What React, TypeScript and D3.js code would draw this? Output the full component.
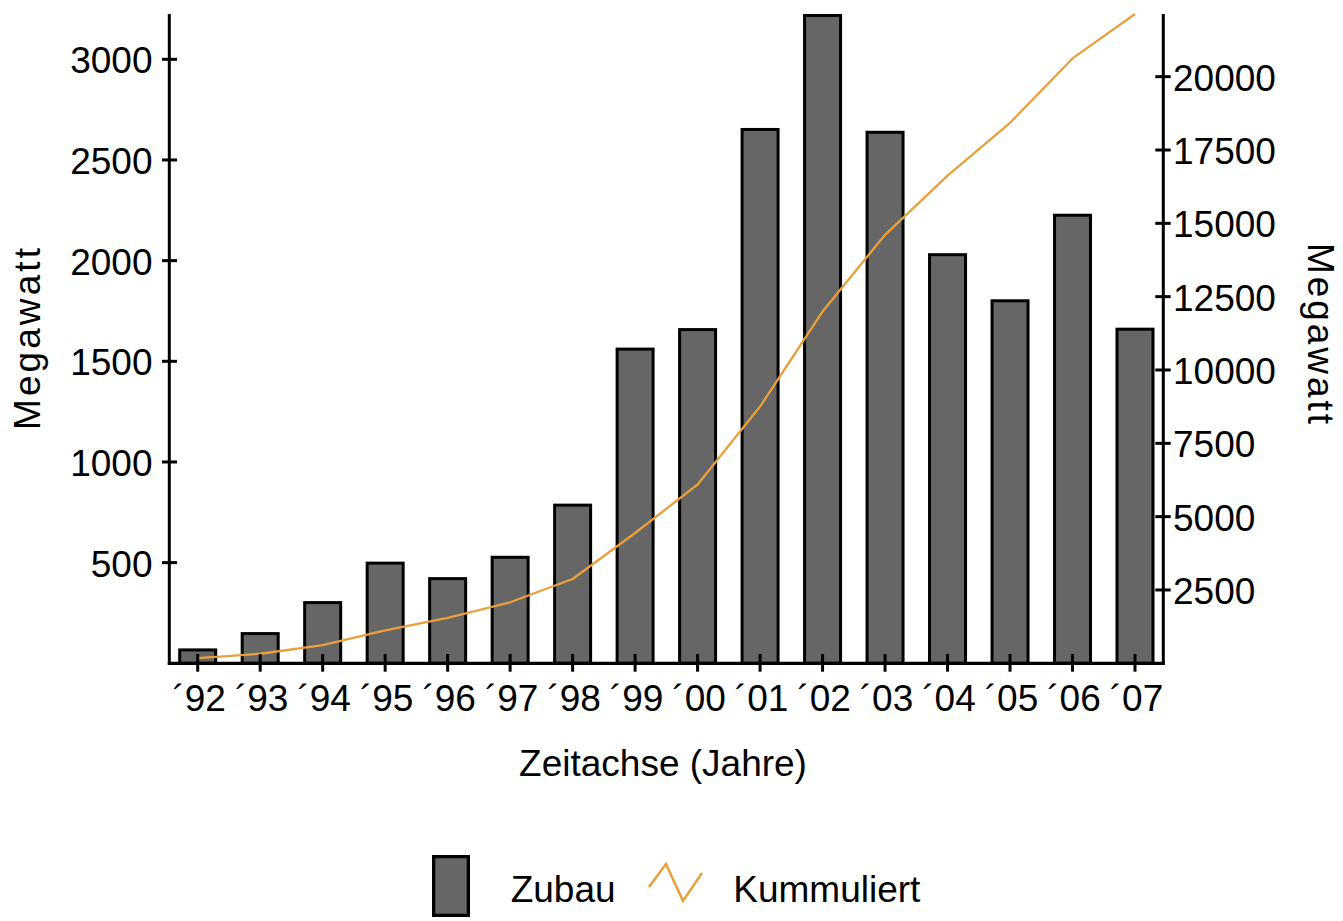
import React from "react";
import * as d3 from "d3";

const years = ["92", "93", "94", "95", "96", "97", "98", "99", "00", "01", "02", "03", "04", "05", "06", "07"];
const zubau = [74, 155, 309, 505, 428, 534, 793, 1568, 1665, 2659, 3247, 2645, 2037, 1808, 2233, 1667];
const kummuliert = [174, 326, 618, 1121, 1546, 2080, 2875, 4442, 6097, 8754, 11994, 14609, 16629, 18428, 20622, 22247];
const leftTicks = [500, 1000, 1500, 2000, 2500, 3000];
const rightTicks = [2500, 5000, 7500, 10000, 12500, 15000, 17500, 20000];

const W = 1343;
const H = 921;
const FONT = "'Liberation Sans', Arial, sans-serif";
const FS = 37;
const ORANGE = "#E9A03C";

export default function App() {
  const left = 169.3;
  const right = 1163.3;
  const top = 14;
  const base = 663.3;

  const x = d3.scalePoint<string>().domain(years).range([197.7, 1135]);
  const yL = d3.scaleLinear().domain([0, 3225]).range([base, top]).clamp(true);
  const yR = d3.scaleLinear().domain([0, 22137]).range([base, top]).clamp(true);

  const barOuter = 39;
  const sw = 3;

  const lineGen = d3
    .line<number>()
    .x((_, i) => x(years[i]) as number)
    .y((d) => yR(d));

  const zig = d3.line<[number, number]>()([
    [649, 887],
    [666, 864],
    [683, 901],
    [702, 873],
  ]);

  return (
    <div style={{ position: "fixed", left: 0, top: 0, background: "#fff" }}>
      <svg width={W} height={H} viewBox={`0 0 ${W} ${H}`} style={{ display: "block", background: "#fff" }}>
        <rect x={0} y={0} width={W} height={H} fill="#fff" />
        {/* bars */}
        {zubau.map((v, i) => {
          const cx = x(years[i]) as number;
          const yt = yL(v);
          return (
            <rect
              key={"b" + i}
              x={cx - barOuter / 2 + sw / 2}
              y={yt + sw / 2}
              width={barOuter - sw}
              height={base - yt - sw / 2}
              fill="#666666"
              stroke="#000"
              strokeWidth={sw}
            />
          );
        })}
        {/* cumulative line */}
        <path d={lineGen(kummuliert) || ""} fill="none" stroke={ORANGE} strokeWidth={2.3} strokeLinejoin="round" />

        {/* left axis */}
        <line x1={left} x2={left} y1={top} y2={base + 1.5} stroke="#000" strokeWidth={3} />
        {leftTicks.map((t) => (
          <g key={"lt" + t}>
            <line x1={162} x2={177} y1={yL(t)} y2={yL(t)} stroke="#000" strokeWidth={3} />
            <text x={152.5} y={yL(t) + 14} textAnchor="end" fontFamily={FONT} fontSize={FS} fill="#000">
              {t}
            </text>
          </g>
        ))}
        {/* right axis */}
        <line x1={right} x2={right} y1={top} y2={base + 1.5} stroke="#000" strokeWidth={3} />
        {rightTicks.map((t) => (
          <g key={"rt" + t}>
            <line x1={1155.3} x2={1170.7} y1={yR(t)} y2={yR(t)} stroke="#000" strokeWidth={3} />
            <text x={1173} y={yR(t) + 14} textAnchor="start" fontFamily={FONT} fontSize={FS} fill="#000">
              {t}
            </text>
          </g>
        ))}
        {/* x axis */}
        <line x1={left - 1.5} x2={right + 1.5} y1={base} y2={base} stroke="#000" strokeWidth={3.3} />
        {years.map((yy) => (
          <g key={"xt" + yy}>
            <line x1={x(yy) as number} x2={x(yy) as number} y1={654} y2={671.7} stroke="#000" strokeWidth={3} />
            <text x={(x(yy) as number) + 1.5} y={711} textAnchor="middle" fontFamily={FONT} fontSize={FS} fill="#000">
              {"\u00B4" + yy}
            </text>
          </g>
        ))}

        {/* axis titles */}
        <text x={663} y={776} textAnchor="middle" fontFamily={FONT} fontSize={FS} fill="#000">
          Zeitachse (Jahre)
        </text>
        <text
          transform="translate(39.5,339) rotate(-90)"
          textAnchor="middle"
          fontFamily={FONT}
          fontSize={FS}
          fill="#000"
          textLength={182}
          lengthAdjust="spacing"
        >
          Megawatt
        </text>
        <text
          transform="translate(1308,333.5) rotate(90)"
          textAnchor="middle"
          fontFamily={FONT}
          fontSize={FS}
          fill="#000"
          textLength={181}
          lengthAdjust="spacing"
        >
          Megawatt
        </text>

        {/* legend */}
        <rect x={432 + 1.65} y={855 + 1.65} width={38 - 3.3} height={62 - 3.3} fill="#666666" stroke="#000" strokeWidth={3.3} />
        <text x={510.7} y={902} fontFamily={FONT} fontSize={FS} fill="#000">
          Zubau
        </text>
        <path d={zig || ""} fill="none" stroke={ORANGE} strokeWidth={2.5} />
        <text x={733.3} y={902} fontFamily={FONT} fontSize={FS} fill="#000">
          Kummuliert
        </text>
      </svg>
    </div>
  );
}
